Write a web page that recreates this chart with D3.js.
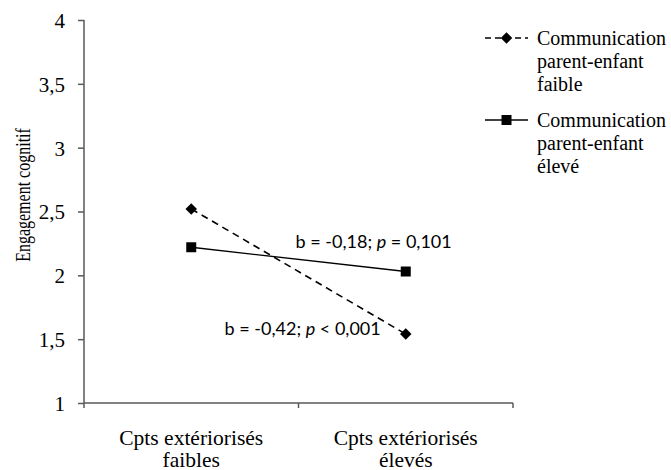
<!DOCTYPE html>
<html>
<head>
<meta charset="utf-8">
<script src="https://cdn.jsdelivr.net/npm/d3@7"></script>
<style>
	body { margin: 0; background: #fff; }
	svg text { fill: #000; }
</style>
</head>
<body>
<svg id="chart" width="671" height="470"></svg>
<script>
// catégories (axe x)
var categories = ["Cpts extériorisés faibles", "Cpts extériorisés élevés"];
var categoryLines = [["Cpts extériorisés", "faibles"], ["Cpts extériorisés", "élevés"]];

// séries
var seriesNames = ["Communication parent-enfant faible", "Communication parent-enfant élevé"];
var legendLines = [["Communication", "parent-enfant", "faible"], ["Communication", "parent-enfant", "élevé"]];
var faibleValues = [2.52, 1.54];
var eleveValues = [2.22, 2.03];

// axe y
var yTicks = [1, 1.5, 2, 2.5, 3, 3.5, 4];
var yLabel = "Engagement cognitif";

// annotations des pentes (b; p) pour chaque série
var slopeTexts = [
	["b = -0,42; ", "p", " < 0,001"],
	["b = -0,18; ", "p", " = 0,101"]
];

(function(){
	var svg = d3.select("#chart");
	var mLeft = 84, mRight = 513, mTop = 20, mBottom = 403;
	var serif = "'Liberation Serif', 'Times New Roman', serif";
	var sans = "Lato, 'Noto Sans', sans-serif";
	var axisColor = "#595959";

	var x = d3.scaleBand().domain(categories).range([mLeft, mRight]);
	var y = d3.scaleLinear().domain([1, 4]).range([mBottom, mTop]);

	var fmt = function(v){ return String(v).replace(".", ","); };

	// axe y
	var yAxis = svg.append("g")
		.attr("transform", "translate(" + mLeft + ",0)")
		.call(d3.axisLeft(y).tickValues(yTicks).tickFormat(fmt).tickSize(6).tickSizeOuter(0));
	yAxis.select(".domain").attr("stroke", axisColor).attr("stroke-width", 1.5)
		.attr("d", "M0," + mTop + "V" + (mBottom + 5));
	yAxis.selectAll(".tick line").attr("stroke", axisColor).attr("stroke-width", 1.5);
	yAxis.selectAll(".tick text")
		.attr("x", -19)
		.attr("dy", "0.35em")
		.style("font-family", serif)
		.style("font-size", "21px")
		.attr("fill", "#000");

	// axe x
	var xAxis = svg.append("g")
		.attr("transform", "translate(0," + mBottom + ")");
	xAxis.append("path")
		.attr("d", "M" + mLeft + ",0H" + mRight)
		.attr("stroke", axisColor).attr("stroke-width", 1.5).attr("fill", "none");
	var bounds = categories.map(function(c){ return x(c); }).concat([mRight]);
	xAxis.selectAll("line.xtick")
		.data(bounds.slice(1))
		.enter().append("line")
		.attr("class", "xtick")
		.attr("x1", function(d){ return d; }).attr("x2", function(d){ return d; })
		.attr("y1", 0).attr("y2", 5)
		.attr("stroke", axisColor).attr("stroke-width", 1.5);

	var xLab = svg.append("g").selectAll("text")
		.data(categories)
		.enter().append("text")
		.attr("x", function(d){ return x(d) + x.bandwidth() / 2; })
		.attr("y", 445)
		.attr("text-anchor", "middle")
		.style("font-family", serif)
		.style("font-size", "21.5px");
	xLab.each(function(d, i){
		var t = d3.select(this);
		categoryLines[i].forEach(function(s, j){
			t.append("tspan")
				.attr("x", x(d) + x.bandwidth() / 2)
				.attr("dy", j === 0 ? 0 : 22)
				.text(s);
		});
	});

	// titre axe y (légèrement étiré comme dans l'original)
	svg.append("text")
		.attr("transform", "translate(30,195) rotate(-90) scale(1,1.25)")
		.attr("text-anchor", "middle")
		.style("font-family", serif)
		.style("font-size", "16px")
		.text(yLabel);

	var cx = function(i){ return x(categories[i]) + x.bandwidth() / 2; };
	var line = d3.line()
		.x(function(d, i){ return cx(i); })
		.y(function(d){ return y(d); });

	var diamond = d3.symbol().type(d3.symbolDiamond2).size(85);
	var square = d3.symbol().type(d3.symbolSquare).size(100);

	// série faible (pointillés + losanges)
	svg.append("path")
		.datum(faibleValues)
		.attr("d", line)
		.attr("fill", "none")
		.attr("stroke", "#000")
		.attr("stroke-width", 1.6)
		.attr("stroke-dasharray", "7,5");
	svg.selectAll("path.diam")
		.data(faibleValues)
		.enter().append("path")
		.attr("class", "diam")
		.attr("d", diamond)
		.attr("transform", function(d, i){ return "translate(" + cx(i) + "," + y(d) + ")"; })
		.attr("fill", "#000");

	// série élevé (ligne pleine + carrés)
	svg.append("path")
		.datum(eleveValues)
		.attr("d", line)
		.attr("fill", "none")
		.attr("stroke", "#000")
		.attr("stroke-width", 1.3);
	svg.selectAll("path.sq")
		.data(eleveValues)
		.enter().append("path")
		.attr("class", "sq")
		.attr("d", square)
		.attr("transform", function(d, i){ return "translate(" + cx(i) + "," + y(d) + ")"; })
		.attr("fill", "#000");

	// annotations : à côté du point final de chaque série
	var annot = [
		{ text: slopeTexts[0], x: cx(1) - 25, y: y(faibleValues[1]) + 1 },
		{ text: slopeTexts[1], x: cx(1) + 46, y: y(eleveValues[0]) + 1 }
	];
	svg.selectAll("text.annot")
		.data(annot)
		.enter().append("text")
		.attr("class", "annot")
		.attr("x", function(d){ return d.x; })
		.attr("y", function(d){ return d.y; })
		.attr("text-anchor", "end")
		.style("font-family", sans)
		.style("font-size", "18px")
		.each(function(d){
			var t = d3.select(this);
			d.text.forEach(function(s, k){
				t.append("tspan").style("font-style", k === 1 ? "italic" : "normal").text(s);
			});
		});

	// légende
	var legend = svg.append("g").attr("transform", "translate(485,38)");
	var items = legend.selectAll("g")
		.data(seriesNames)
		.enter().append("g")
		.attr("transform", function(d, i){ return "translate(0," + (i * 82) + ")"; });
	items.append("line")
		.attr("x1", 0).attr("x2", 43).attr("y1", 0).attr("y2", 0)
		.attr("stroke", "#000")
		.attr("stroke-width", 1.3)
		.attr("stroke-dasharray", function(d, i){ return i === 0 ? "6,4" : null; });
	items.append("path")
		.attr("d", function(d, i){ return i === 0 ? diamond() : square(); })
		.attr("transform", "translate(21.5,0)")
		.attr("fill", "#000");
	items.append("text")
		.attr("x", 52)
		.attr("y", 0)
		.style("font-family", serif)
		.style("font-size", "20px")
		.each(function(d, i){
			var t = d3.select(this);
			legendLines[i].forEach(function(s, j){
				t.append("tspan").attr("x", 52).attr("dy", j === 0 ? "0.35em" : 23).text(s);
			});
		});
})();
</script>
</body>
</html>
